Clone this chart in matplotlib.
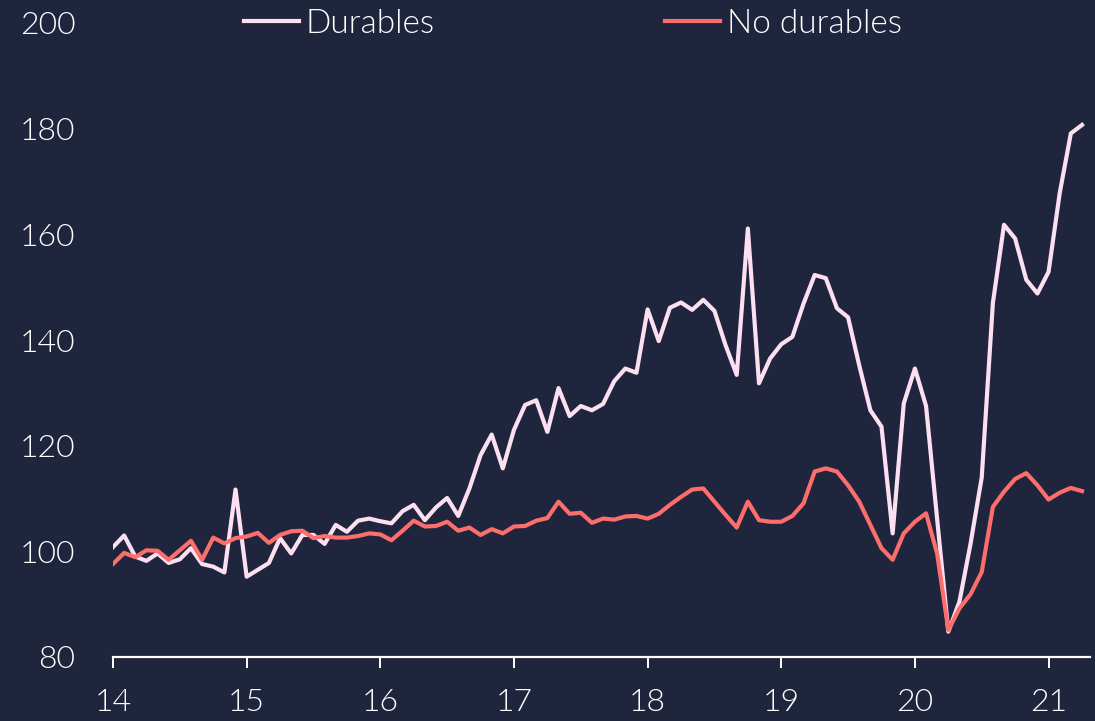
import numpy as np
import matplotlib.pyplot as plt

# monthly index values, Jan 2014 - Apr 2021
durables = [
    100.8, 103.0, 99.0, 98.2, 99.6, 97.8, 98.5, 100.6, 97.6, 97.1, 96.0, 111.7,
    95.2, 96.5, 97.8, 102.5, 99.6, 103.1, 103.1, 101.4, 105.0, 103.7, 105.8, 106.2,
    105.7, 105.3, 107.6, 108.8, 105.9, 108.3, 110.1, 106.7, 111.9, 118.2, 122.1, 115.7,
    123.0, 127.7, 128.6, 122.6, 130.9, 125.6, 127.5, 126.7, 127.9, 132.2, 134.6, 133.8,
    145.8, 139.8, 146.1, 147.1, 145.7, 147.6, 145.5, 139.0, 133.4, 161.1, 131.8, 136.5,
    139.2, 140.6, 146.9, 152.3, 151.7, 146.0, 144.3, 135.2, 126.7, 123.6, 103.4, 128.0,
    134.6, 127.5, 106.0, 84.8, 90.5, 101.5, 114.0, 147.0, 161.8, 159.2, 151.4, 148.8,
    152.9, 167.8, 179.1, 180.7,
]
no_durables = [
    97.6, 99.7, 98.9, 100.2, 100.1, 98.4, 100.2, 102.0, 98.4, 102.6, 101.5, 102.5,
    102.8, 103.5, 101.6, 103.1, 103.8, 103.9, 102.5, 102.9, 102.6, 102.6, 102.9, 103.4,
    103.2, 102.1, 103.9, 105.8, 104.7, 104.8, 105.6, 103.9, 104.5, 103.1, 104.2, 103.4,
    104.7, 104.8, 105.8, 106.3, 109.4, 107.1, 107.3, 105.4, 106.2, 106.0, 106.6, 106.7,
    106.2, 107.1, 108.8, 110.3, 111.7, 111.9, 109.4, 106.9, 104.5, 109.4, 105.9, 105.6,
    105.6, 106.7, 109.1, 115.1, 115.7, 115.1, 112.5, 109.4, 105.0, 100.6, 98.4, 103.4,
    105.6, 107.2, 99.5, 85.1, 89.2, 91.9, 96.1, 108.4, 111.3, 113.7, 114.8, 112.5,
    109.8, 111.1, 112.0, 111.4,
]
x = 14 + np.arange(len(durables)) / 12.0

x_ticks = [14, 15, 16, 17, 18, 19, 20, 21]
y_ticks = [80, 100, 120, 140, 160, 180, 200]

bg = '#1f253c'
pink = '#fcdff0'
red = '#fc6e6c'

plt.rcParams['font.family'] = ['Lato', 'DejaVu Sans']
plt.rcParams['font.weight'] = 300

fig = plt.figure(figsize=(10.95, 7.21), dpi=100, facecolor=bg)
ax = fig.add_axes([113 / 1095, 1 - 657 / 721, (1090 - 113) / 1095, (657 - 23) / 721])
ax.set_facecolor(bg)

ax.plot(x, durables, color=pink, linewidth=3.0, label='Durables')
ax.plot(x, no_durables, color=red, linewidth=3.0, label='No durables')

ax.set_xlim(14, 21.31)
ax.set_ylim(80, 200)
ax.set_xticks(x_ticks)
ax.set_xticklabels([str(t) for t in x_ticks])
ax.set_yticks(y_ticks)

for s in ['top', 'right', 'left']:
    ax.spines[s].set_visible(False)
ax.spines['bottom'].set_color('white')
ax.spines['bottom'].set_linewidth(1.6)

ax.tick_params(axis='x', colors='white', labelsize=23, length=8, width=1.4,
               direction='out', pad=14)
ax.tick_params(axis='y', colors='white', labelsize=23, length=0, pad=27)
for lbl in ax.get_xticklabels() + ax.get_yticklabels():
    lbl.set_fontweight(300)

leg = fig.legend(loc='center', bbox_to_anchor=(573 / 1095, 1 - 24 / 721), ncol=2,
                 frameon=False, fontsize=24, handlelength=1.65, handletextpad=0.2,
                 columnspacing=6.9, borderaxespad=0)
for t in leg.get_texts():
    t.set_color('white')
    t.set_fontweight(300)

fig.savefig('out.png', dpi=100, facecolor=bg)
